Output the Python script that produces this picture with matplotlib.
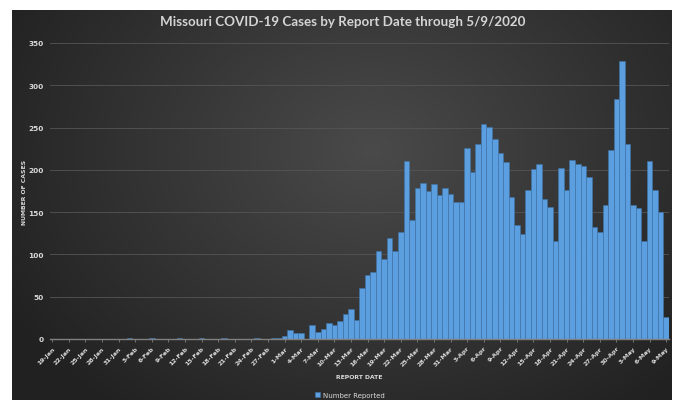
import numpy as np
import pandas as pd
import matplotlib
matplotlib.use("Agg")
import matplotlib.pyplot as plt

# daily cases, 19-Jan-2020 .. 9-May-2020
dates = pd.date_range("2020-01-19", "2020-05-09", freq="D")
cases = [0] * 14 + [
    1, 0, 0, 0, 1, 0, 0, 0, 0, 1, 0, 0, 0, 1, 0, 0, 0, 1, 0, 0, 0, 0, 0, 1, 0, 0, 1, 1,  # 2-Feb .. 29-Feb
    3, 11, 7, 7, 0, 17, 8, 12, 19, 17, 21, 29, 35, 23, 60, 76, 79, 104, 95, 119, 104,  # 1-Mar .. 21-Mar
    127, 210, 141, 179, 185, 175, 183, 170, 178, 171,  # 22-Mar .. 31-Mar
    162, 162, 226, 197, 231, 254, 251, 236, 220, 209, 168, 135, 124, 176, 201,  # 1-Apr .. 15-Apr
    207, 166, 156, 116, 202, 176, 212, 207, 204, 191, 132, 127, 159, 224, 284,  # 16-Apr .. 30-Apr
    329, 231, 159, 155, 116, 210, 176, 150, 26,  # 1-May .. 9-May
]
tick_dates = dates[::3]
tick_labels = [f"{d.day}-{d.strftime('%b')}" for d in tick_dates]
yticks = [0, 50, 100, 150, 200, 250, 300, 350]

title = "Missouri COVID-19 Cases by Report Date through 5/9/2020"
txt = "#d9d9d9"

fig = plt.figure(figsize=(6.85, 4.02), dpi=100)
fig.patch.set_facecolor("white")

# dark radial gradient background
bg = fig.add_axes([12 / 685, 1 - 401 / 402, 660 / 685, 390 / 402])
yy, xx = np.mgrid[0:390, 0:660]
r = np.sqrt(((xx - 360) / 420.0) ** 2 + ((yy - 140) / 330.0) ** 2)
r = np.clip(r, 0, 1)
shade = 0.29 - 0.16 * r
img = np.dstack([shade, shade, shade])
bg.imshow(img, aspect="auto", interpolation="bilinear")
bg.axis("off")

ax = fig.add_axes([49.5 / 685, 1 - 340 / 402, 619.5 / 685, 296 / 402])
ax.patch.set_alpha(0)

ax.bar(dates, cases, width=1.0, color="#5b9fe0", edgecolor="#3f74a8", linewidth=0.4,
       label="Number Reported", zorder=3)

ax.set_xlim(dates[0] - pd.Timedelta(hours=12), dates[-1] + pd.Timedelta(hours=12))
ax.set_ylim(0, 350)
ax.set_yticks(yticks)
ax.set_xticks(tick_dates)
ax.set_xticklabels(tick_labels, rotation=45, ha="right", va="top", rotation_mode="anchor")

ax.grid(axis="y", color="#555555", linewidth=0.6, zorder=0)
for s in ["top", "right", "left"]:
    ax.spines[s].set_visible(False)
ax.spines["bottom"].set_color("#808080")
ax.spines["bottom"].set_linewidth(1.0)
ax.spines["bottom"].set_zorder(4)

ax.tick_params(axis="x", colors="#808080", labelcolor=txt, labelsize=4.5, length=2.5, width=0.6, pad=2)
ax.tick_params(axis="y", labelcolor=txt, labelsize=5.3, length=0, pad=4)
for lab in ax.get_xticklabels() + ax.get_yticklabels():
    lab.set_fontweight("bold")

ax.set_ylabel("NUMBER OF CASES", color=txt, fontsize=4.4, fontweight="bold", labelpad=6)
ax.yaxis.set_label_coords(-0.036, 0.5)
ax.set_xlabel("REPORT DATE", color=txt, fontsize=4.4, fontweight="bold")
ax.xaxis.set_label_coords(0.5, -35 / 296)

fig.text(0.5, 1 - 22 / 402, title, ha="center", va="center", color="#d4d4d4",
         fontsize=9.6, fontweight="bold", family="Lato")

leg = ax.legend(loc="center", bbox_to_anchor=(350 / 685, 1 - 396 / 402),
                bbox_transform=fig.transFigure, frameon=False, fontsize=5,
                handlelength=0.7, handleheight=0.7, handletextpad=0.4)
for t in leg.get_texts():
    t.set_color(txt)

fig.savefig("out.png", dpi=100)
